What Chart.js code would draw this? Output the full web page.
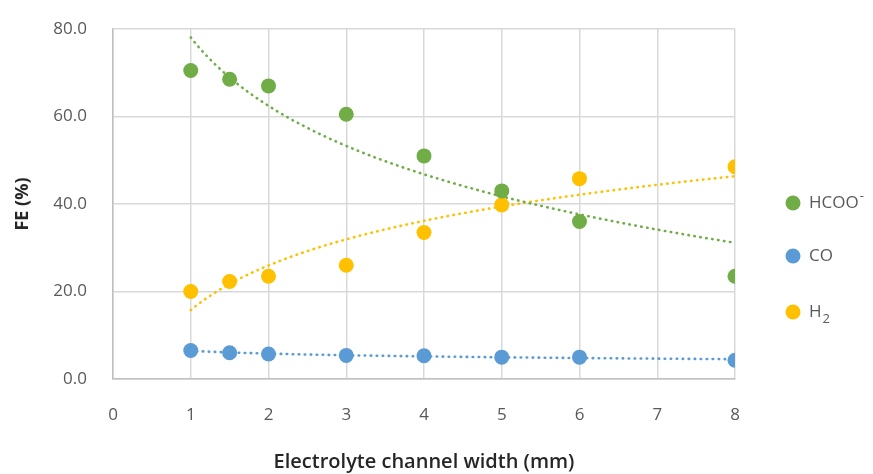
<!DOCTYPE html>
<html>
<head>
<meta charset="utf-8">
<script src="https://cdn.jsdelivr.net/npm/chart.js@4.4.1/dist/chart.umd.min.js"></script>
<style>
  html, body { margin: 0; padding: 0; background: #ffffff; }
  #wrap { width: 873px; height: 474px; position: relative; }
</style>
</head>
<body>
<div id="wrap"><canvas id="c" width="873" height="474"></canvas></div>
<script>
// Faradaic efficiency vs. electrolyte channel width
const widths = [1, 1.5, 2, 3, 4, 5, 6, 8];
const feHCOO = [70.5, 68.5, 67.0, 60.5, 51.0, 43.0, 36.0, 23.5];
const feCO   = [6.5, 6.0, 5.7, 5.4, 5.3, 5.0, 5.0, 4.3];
const feH2   = [20.0, 22.3, 23.5, 26.0, 33.5, 39.8, 45.8, 48.5];
const xTicks = [0, 1, 2, 3, 4, 5, 6, 7, 8];
const yTicks = [0, 20, 40, 60, 80];

const GREEN = '#70AD47', BLUE = '#5B9BD5', YELLOW = '#FFC000';
const FAMILY = '"Open Sans", "Noto Sans", sans-serif';

// Logarithmic least-squares trend line  y = a + b·ln(x), sampled along the axis
function logTrend(xs, ys) {
  const lx = xs.map(Math.log);
  const n = xs.length;
  const mx = lx.reduce((s, v) => s + v, 0) / n;
  const my = ys.reduce((s, v) => s + v, 0) / n;
  let sxy = 0, sxx = 0;
  for (let i = 0; i < n; i++) { sxy += (lx[i] - mx) * (ys[i] - my); sxx += (lx[i] - mx) ** 2; }
  const b = sxy / sxx, a = my - b * mx;
  const pts = [];
  const x0 = Math.min(...xs), x1 = Math.max(...xs);
  for (let k = 0; k <= 140; k++) {
    const x = x0 + (x1 - x0) * k / 140;
    pts.push({ x, y: a + b * Math.log(x) });
  }
  return pts;
}

const toPts = ys => widths.map((x, i) => ({ x, y: ys[i] }));

function trendSet(ys, color) {
  return {
    type: 'line', data: logTrend(widths, ys), showLine: true,
    borderColor: color, borderWidth: 2.6, borderDash: [0.5, 5.5], borderCapStyle: 'round',
    pointRadius: 0, pointHoverRadius: 0, fill: false, tension: 0, order: 2
  };
}
function pointSet(label, ys, color) {
  return {
    type: 'scatter', label, data: toPts(ys), showLine: false,
    backgroundColor: color, borderColor: color, pointRadius: 7.5, pointBorderWidth: 0, order: 1
  };
}

// Legend drawn at the right with superscript / subscript parts
const legendItems = [
  { color: GREEN,  parts: [['HCOO', 0], ['-', -1]] },
  { color: BLUE,   parts: [['CO', 0]] },
  { color: YELLOW, parts: [['H', 0], ['2', 1]] }
];
const sideLegend = {
  id: 'sideLegend',
  afterDraw(chart) {
    const ctx = chart.ctx;
    const ys = [203, 256, 312];
    ctx.save();
    legendItems.forEach((it, i) => {
      const y = ys[i];
      ctx.fillStyle = it.color;
      ctx.beginPath(); ctx.arc(793, y, 7.5, 0, Math.PI * 2); ctx.fill();
      let x = 809;
      ctx.fillStyle = '#595959';
      ctx.textBaseline = 'middle';
      ctx.textAlign = 'left';
      it.parts.forEach(([t, shift]) => {
        const size = shift === 0 ? 17 : 13;
        ctx.font = size + 'px ' + FAMILY;
        ctx.fillText(t, x, y + shift * 7);
        x += ctx.measureText(t).width + (shift ? 0 : 1);
      });
    });
    ctx.restore();
  }
};

const tickFont = { family: FAMILY, size: 17 };

new Chart(document.getElementById('c'), {
  data: {
    datasets: [
      trendSet(feHCOO, GREEN), trendSet(feCO, BLUE), trendSet(feH2, YELLOW),
      pointSet('HCOO⁻', feHCOO, GREEN), pointSet('CO', feCO, BLUE), pointSet('H₂', feH2, YELLOW)
    ]
  },
  options: {
    responsive: false,
    animation: false,
    events: [],
    layout: { padding: { top: 29, right: 138, left: 0, bottom: 0 } },
    plugins: { legend: { display: false }, tooltip: { enabled: false } },
    scales: {
      x: {
        type: 'linear', min: 0, max: 8,
        afterBuildTicks: s => { s.ticks = xTicks.map(v => ({ value: v })); },
        afterFit: s => { s.height = 95; s.paddingLeft = 0; s.paddingRight = 0; },
        grid: { color: '#d9d9d9', lineWidth: 1.5, drawTicks: false },
        border: { color: '#bfbfbf', width: 1.5 },
        ticks: { color: '#595959', font: tickFont, padding: 26, callback: v => String(v) },
        title: {
          display: true, text: 'Electrolyte channel width (mm)', color: '#262626',
          font: { family: FAMILY, size: 20, weight: '600' },
          padding: { top: 0, bottom: 0 }
        }
      },
      y: {
        type: 'linear', min: 0, max: 80,
        afterBuildTicks: s => { s.ticks = yTicks.map(v => ({ value: v })); },
        afterFit: s => { s.width = 113; s.paddingTop = 0; s.paddingBottom = 0; },
        grid: { color: '#d9d9d9', lineWidth: 1.5, drawTicks: false },
        border: { color: '#bfbfbf', width: 1.5 },
        ticks: { color: '#595959', font: tickFont, padding: 26, callback: v => v.toFixed(1) },
        title: {
          display: true, text: 'FE (%)', color: '#262626',
          font: { family: FAMILY, size: 18, weight: 'bold' },
          padding: { top: 12, bottom: 0 }
        }
      }
    }
  },
  plugins: [sideLegend]
});
</script>
</body>
</html>
